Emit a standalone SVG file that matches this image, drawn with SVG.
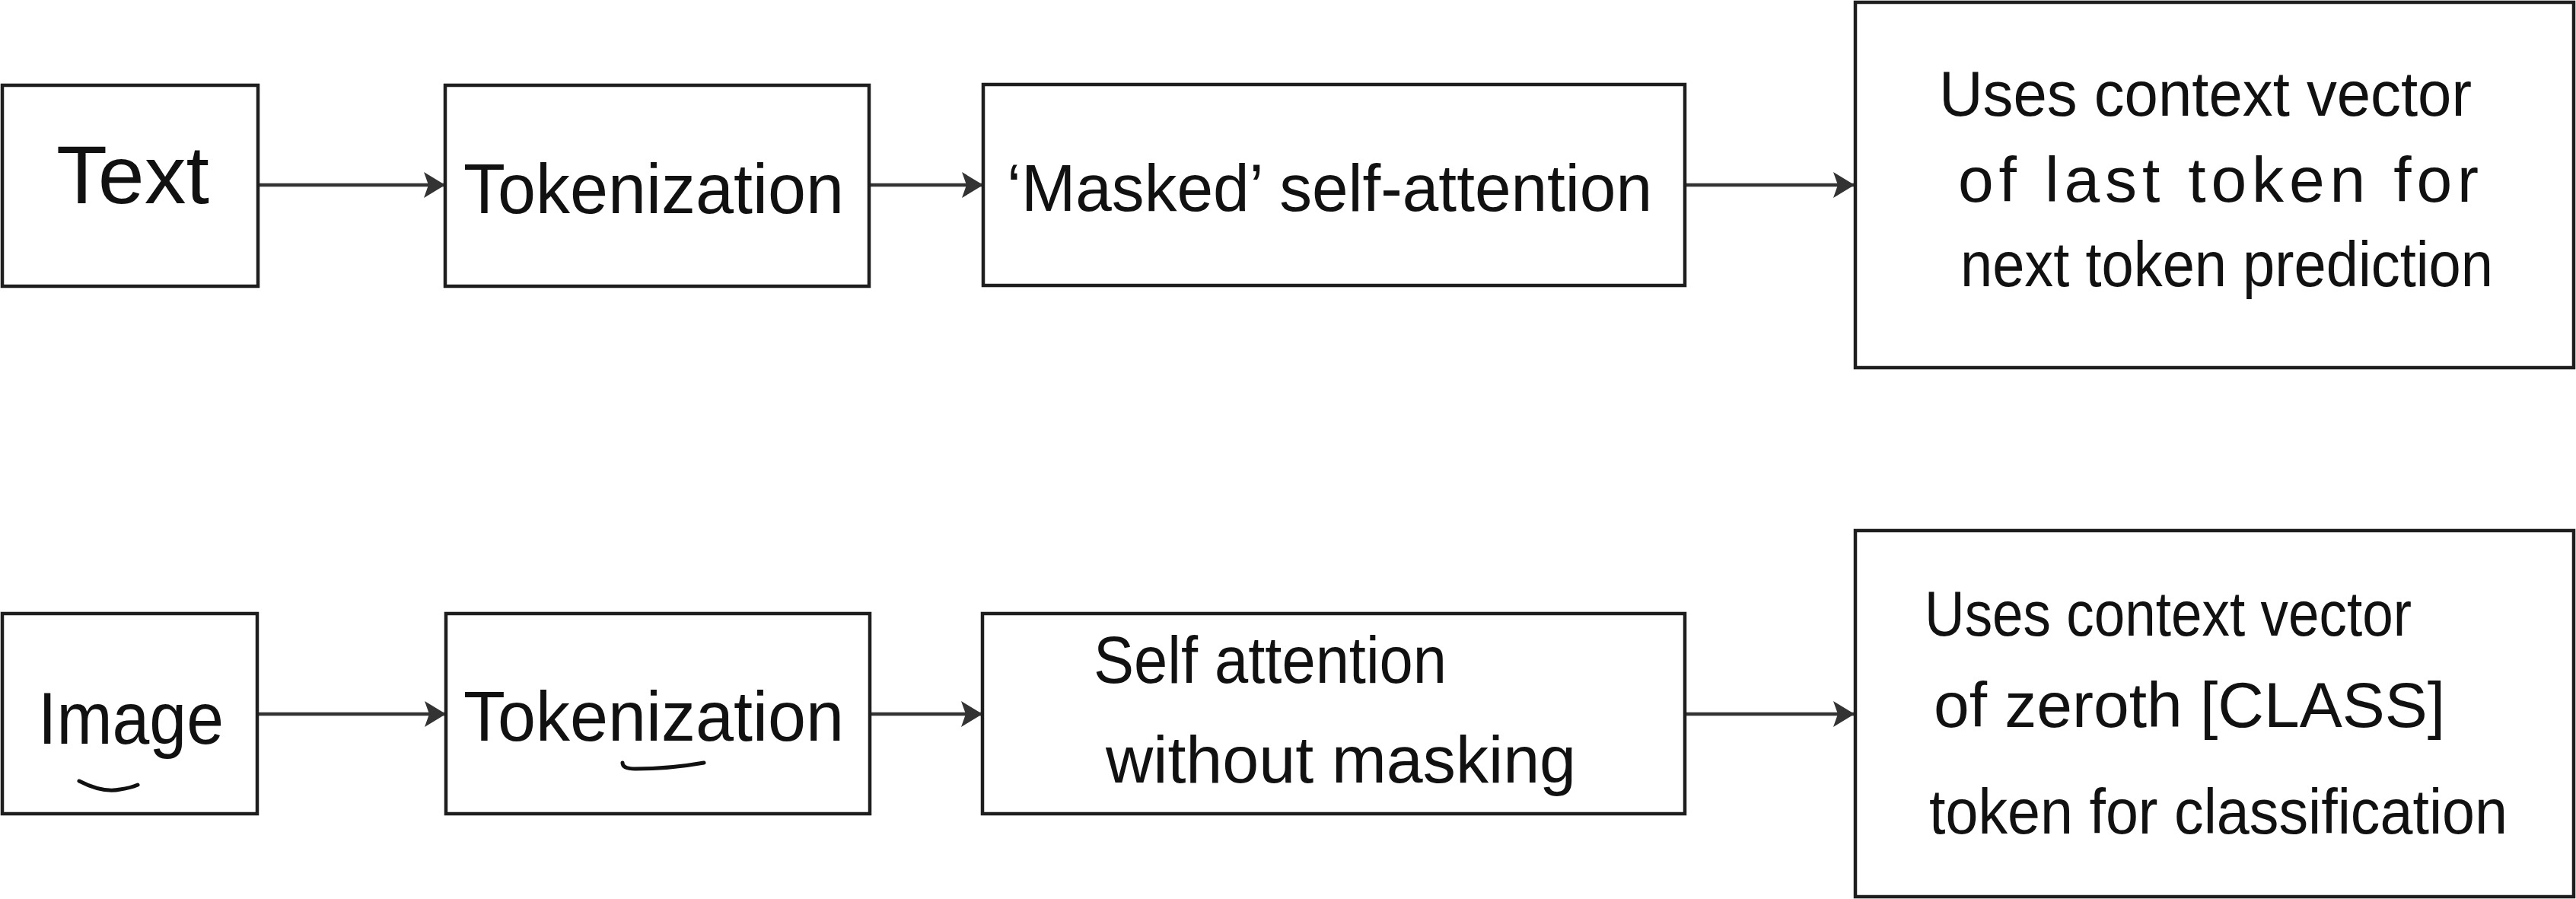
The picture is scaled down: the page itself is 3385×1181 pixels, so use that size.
<svg xmlns="http://www.w3.org/2000/svg" width="3385" height="1181" viewBox="0 0 3385 1181">
<style>
.box{fill:#ffffff;stroke:#1e1e1e;stroke-width:4.5}
.lbl{font-family:"Liberation Sans","Noto Sans",sans-serif;fill:#111111;font-size:84px}
.mid{font-size:88px}
.big{font-size:92px}
.edge{stroke:#333333;stroke-width:4.5;fill:none}
.mark{stroke:#111111;stroke-width:5;fill:none;stroke-linecap:round}
</style>
<defs>
<marker id="ah" markerUnits="userSpaceOnUse" markerWidth="34" markerHeight="38" refX="31" refY="19" orient="auto">
<path d="M3,2 L31,19 L3,36 L9,19 Z" fill="#333333"/>
</marker>
</defs>
<rect width="3385" height="1181" fill="#ffffff"/>
<g id="connectors">
<line class="edge" x1="339" y1="243" x2="585" y2="243" marker-end="url(#ah)"/>
<line class="edge" x1="1142" y1="243" x2="1292" y2="243" marker-end="url(#ah)"/>
<line class="edge" x1="2214" y1="243" x2="2437" y2="243" marker-end="url(#ah)"/>
<line class="edge" x1="338" y1="938" x2="586" y2="938" marker-end="url(#ah)"/>
<line class="edge" x1="1143" y1="938" x2="1291" y2="938" marker-end="url(#ah)"/>
<line class="edge" x1="2214" y1="938" x2="2437" y2="938" marker-end="url(#ah)"/>
</g>
<g id="node-text">
<rect class="box" x="3" y="112" width="336" height="264"/>
<text class="lbl" style="font-size:108px" x="74" y="267" textLength="201" lengthAdjust="spacingAndGlyphs">Text</text>
</g>
<g id="node-tokenization-top">
<rect class="box" x="585" y="112" width="557" height="264"/>
<text class="lbl big" x="609" y="280" textLength="500" lengthAdjust="spacingAndGlyphs">Tokenization</text>
</g>
<g id="node-masked">
<rect class="box" x="1292" y="111" width="922" height="264"/>
<text class="lbl mid" x="1323" y="277" textLength="848" lengthAdjust="spacingAndGlyphs">‘Masked’ self-attention</text>
</g>
<g id="node-output-top">
<rect class="box" x="2438" y="3" width="944" height="480"/>
<text class="lbl" x="2548" y="152" textLength="700" lengthAdjust="spacingAndGlyphs">Uses context vector</text>
<text class="lbl" x="2573" y="265" textLength="684" lengthAdjust="spacing">of last token for</text>
<text class="lbl" x="2576" y="376" textLength="700" lengthAdjust="spacingAndGlyphs">next token prediction</text>
</g>
<g id="node-image">
<rect class="box" x="3" y="806" width="335" height="263"/>
<text class="lbl" style="font-size:96px" x="50" y="977" textLength="244" lengthAdjust="spacingAndGlyphs">Image</text>
<path class="mark" d="M104,1026 Q135,1042 158,1037 Q172,1035 181,1031"/>
</g>
<g id="node-tokenization-bottom">
<rect class="box" x="586" y="806" width="557" height="263"/>
<text class="lbl big" x="609" y="973" textLength="500" lengthAdjust="spacingAndGlyphs">Tokenization</text>
<path class="mark" d="M818,1002 Q818,1010 835,1010 Q880,1010 925,1002"/>
</g>
<g id="node-self-attention">
<rect class="box" x="1291" y="806" width="923" height="263"/>
<text class="lbl mid" x="1437" y="897" textLength="464" lengthAdjust="spacingAndGlyphs">Self attention</text>
<text class="lbl mid" x="1453" y="1028" textLength="618" lengthAdjust="spacingAndGlyphs">without masking</text>
</g>
<g id="node-output-bottom">
<rect class="box" x="2438" y="697" width="944" height="481"/>
<text class="lbl" x="2529" y="835" textLength="640" lengthAdjust="spacingAndGlyphs">Uses context vector</text>
<text class="lbl" x="2541" y="955" textLength="672" lengthAdjust="spacingAndGlyphs">of zeroth [CLASS]</text>
<text class="lbl" x="2535" y="1095" textLength="760" lengthAdjust="spacingAndGlyphs">token for classification</text>
</g>
</svg>
